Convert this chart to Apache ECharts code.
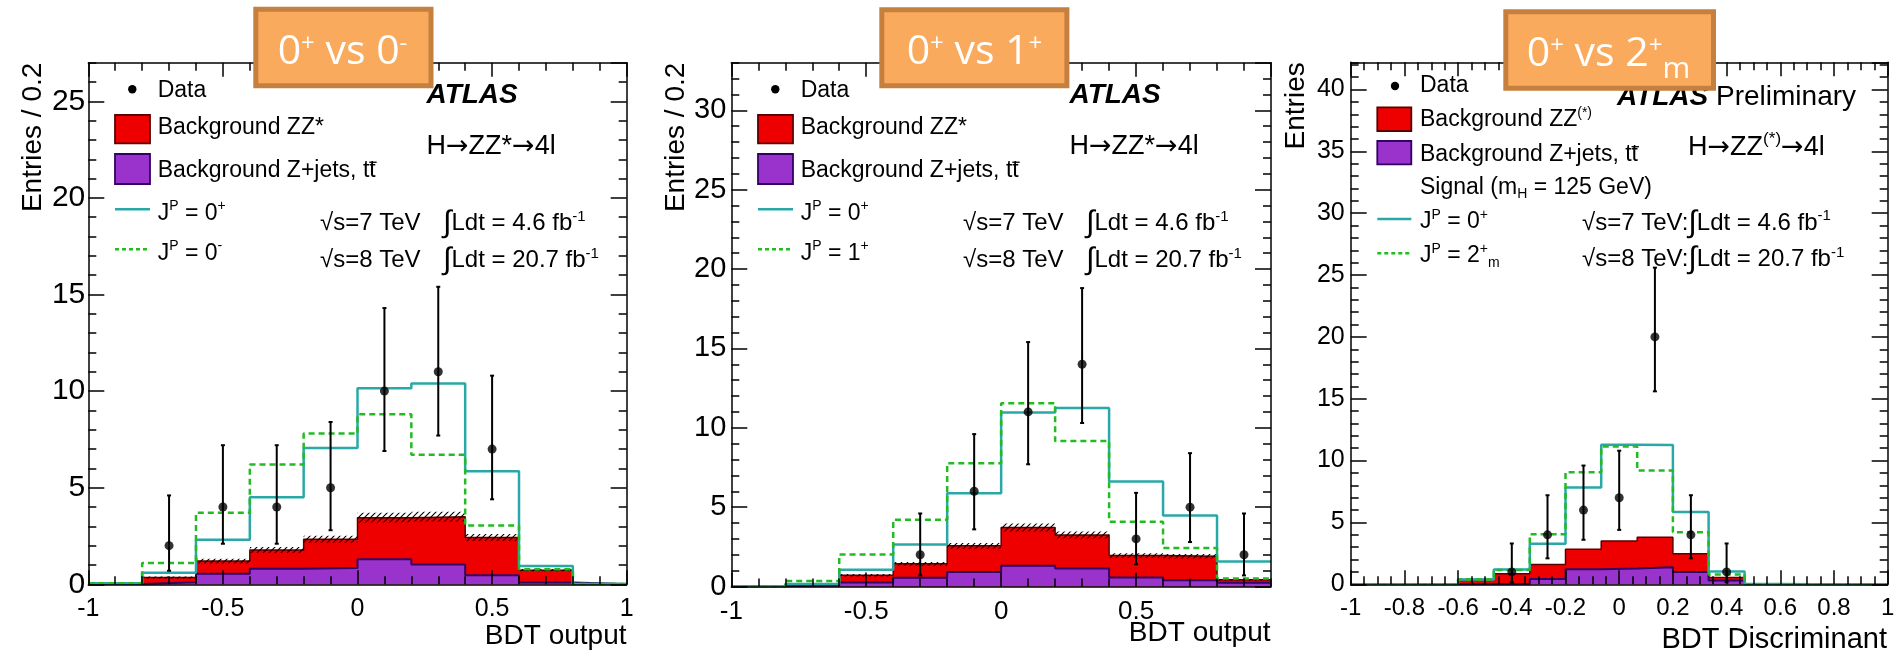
<!DOCTYPE html>
<html><head><meta charset="utf-8">
<script src="https://cdn.jsdelivr.net/npm/echarts@6.0.0/dist/echarts.min.js"></script>
<style>html,body{margin:0;padding:0;background:#fff}#c{width:1895px;height:655px}</style>
</head><body><div id="c"></div><script>
// ---------------- DATA ----------------
// Panel 1: 0+ vs 0-
const p1Edges = [-1,-0.8,-0.6,-0.4,-0.2,0,0.2,0.4,0.6,0.8,1];
const p1Bkg   = [0.02,0.35,1.2,1.78,2.33,3.45,3.5,2.42,0.73,0.02];
const p1Zjets = [0.01,0.1,0.55,0.8,0.85,1.3,1.02,0.47,0.09,0.01];
const p1Unc   = [0,0.05,0.12,0.15,0.18,0.25,0.25,0.18,0.06,0];
const p1Sig   = [0.05,0.6,2.3,4.5,7.05,10.15,10.4,5.85,0.95,0.02];
const p1Alt   = [0.05,1.1,3.7,6.2,7.8,8.8,6.7,3.05,0.78,0.02];
const p1DataX = [-0.7,-0.5,-0.3,-0.1,0.1,0.3,0.5];
const p1Data  = [2,4,4,5,10,11,7];
const p1ErrLo = [0.7,2.1,2.1,2.8,6.9,7.7,4.4];
const p1ErrHi = [4.6,7.2,7.2,8.4,14.3,15.4,10.8];

// Panel 2: 0+ vs 1+
const p2Edges = [-1,-0.8,-0.6,-0.4,-0.2,0,0.2,0.4,0.6,0.8,1];
const p2Bkg   = [0.02,0.15,0.71,1.43,2.56,3.72,3.24,1.95,1.9,0.42];
const p2Zjets = [0.02,0.08,0.25,0.55,0.92,1.3,1.13,0.57,0.4,0.24];
const p2Unc   = [0,0.03,0.08,0.12,0.18,0.25,0.22,0.15,0.14,0.04];
const p2Sig   = [0.02,0.15,1.05,2.65,5.88,10.97,11.24,6.62,4.47,1.58];
const p2Alt   = [0.02,0.34,2.02,4.2,7.77,11.55,9.16,4.08,2.42,0.5];
const p2DataX = [-0.3,-0.1,0.1,0.3,0.5,0.7,0.9];
const p2Data  = [2,6,11,14,3,5,2];
const p2ErrLo = [0.7,3.6,7.7,10.3,1.4,2.8,0.7];
const p2ErrHi = [4.6,9.6,15.4,18.8,5.9,8.4,4.6];

// Panel 3: 0+ vs 2+m
const p3Edges = [-1,-0.867,-0.733,-0.6,-0.467,-0.333,-0.2,-0.067,0.067,0.2,0.333,0.467,0.6,0.733,0.867,1];
const p3Bkg   = [0.02,0.02,0.02,0.38,0.86,1.61,2.84,3.51,3.81,2.47,0.55,0.02,0.02,0.02,0.02];
const p3Zjets = [0.02,0.02,0.02,0.02,0.05,0.43,1.21,1.27,1.37,1.0,0.3,0.02,0.02,0.02,0.02];
const p3Sig   = [0,0,0,0.38,1.2,3.27,7.83,11.29,11.26,5.84,1.03,0.02,0,0,0];
const p3Alt   = [0,0,0,0.38,1.15,4.05,9.06,11.15,9.2,4.21,0.8,0,0,0,0];
const p3DataX = [-0.4,-0.267,-0.133,0,0.133,0.267,0.4];
const p3Data  = [1,4,6,7,20,4,1];
const p3ErrLo = [0.17,2.1,3.6,4.4,15.6,2.1,0.17];
const p3ErrHi = [3.3,7.2,9.6,10.8,25.6,7.2,3.3];

// ---------------- STYLE / LAYOUT ----------------
const FF = '"Liberation Sans", Arial, Helvetica, sans-serif';
const OF = '"Open Sans", "Noto Sans", sans-serif';
const layout = [
  {left:88.3, top:62.7, width:538.4, height:521.6, ymax:27, xMajor:0.5, xMinor:0.1, yFont:30, xFont:25, yMargin:3, xMargin:12, hideXMax:false},
  {left:731.3, top:62.7, width:539.7, height:523.8, ymax:33, xMajor:0.5, xMinor:0.1, yFont:29, xFont:26, yMargin:5, xMargin:12, hideXMax:true},
  {left:1350.7, top:62.3, width:537, height:522, ymax:42.2, xMajor:0.2, xMinor:0.05, yFont:25, xFont:24, yMargin:6, xMargin:12, hideXMax:false}
];
const panels = [
  {edges:p1Edges,bkg:p1Bkg,zjets:p1Zjets,unc:p1Unc,sig:p1Sig,alt:p1Alt,dx:p1DataX,d:p1Data,lo:p1ErrLo,hi:p1ErrHi},
  {edges:p2Edges,bkg:p2Bkg,zjets:p2Zjets,unc:p2Unc,sig:p2Sig,alt:p2Alt,dx:p2DataX,d:p2Data,lo:p2ErrLo,hi:p2ErrHi},
  {edges:p3Edges,bkg:p3Bkg,zjets:p3Zjets,unc:null,sig:p3Sig,alt:p3Alt,dx:p3DataX,d:p3Data,lo:p3ErrLo,hi:p3ErrHi}
];

function stepData(edges, vals){
  const d = [];
  for (let i = 0; i < vals.length; i++) d.push([edges[i], vals[i]]);
  d.push([edges[vals.length], vals[vals.length-1]]);
  return d;
}

const hatch = (function(){
  const c = document.createElement('canvas'); c.width = 6; c.height = 6;
  const g = c.getContext('2d'); g.strokeStyle = '#000'; g.lineWidth = 1.1;
  g.beginPath(); g.moveTo(0,6); g.lineTo(6,0); g.moveTo(-3,3); g.lineTo(3,-3); g.moveTo(3,9); g.lineTo(9,3); g.stroke();
  return c;
})();

const grids = [], xAxes = [], yAxes = [], series = [];
const axLine = {show:true, onZero:false, lineStyle:{color:'#000', width:1.5}};
const noLine = {show:false, onZero:false};

function mkAxis(gi, L, dim, pos, interval, len, label){
  const isX = dim === 'x';
  return {
    gridIndex: gi, type:'value', position: pos,
    min: isX ? -1 : 0, max: isX ? 1 : L.ymax, interval: interval, z: 10,
    axisLine: len > 10 ? axLine : noLine,
    axisTick: {show:true, inside:true, length:len, lineStyle:{color:'#000', width:1.5}},
    splitLine: {show:false}, minorTick: {show:false}, minorSplitLine:{show:false},
    axisLabel: label ? {
      show:true, color:'#000', fontFamily: FF,
      fontSize: isX ? L.xFont : L.yFont, margin: isX ? L.xMargin : L.yMargin,
      showMaxLabel: isX ? !L.hideXMax : false, showMinLabel: true,
      formatter: v => String(Math.round(v*1000)/1000)
    } : {show:false}
  };
}

layout.forEach((L, i) => {
  grids.push({left:L.left, top:L.top, width:L.width, height:L.height, containLabel:false, outerBoundsMode:'none'});
  xAxes.push(mkAxis(i,L,'x','bottom',L.xMajor,14,true), mkAxis(i,L,'x','bottom',L.xMinor,8,false),
             mkAxis(i,L,'x','top',L.xMajor,14,false), mkAxis(i,L,'x','top',L.xMinor,8,false));
  yAxes.push(mkAxis(i,L,'y','left',5,16,true), mkAxis(i,L,'y','left',1,8,false),
             mkAxis(i,L,'y','right',5,16,false), mkAxis(i,L,'y','right',1,8,false));
  const P = panels[i];
  const c = {xAxisIndex:i*4, yAxisIndex:i*4, animation:false};
  series.push(Object.assign({}, c, {type:'line', step:'end', symbol:'none', data:stepData(P.edges,P.bkg),
    lineStyle:{color:'#5a0000', width:1.5}, areaStyle:{color:'#ee0000', opacity:1, origin:'start'}, z:2}));
  series.push(Object.assign({}, c, {type:'line', step:'end', symbol:'none', data:stepData(P.edges,P.zjets),
    lineStyle:{color:'#330066', width:2}, areaStyle:{color:'#9933cc', opacity:1, origin:'start'}, z:3}));
  if (P.unc) {
    const hd = [];
    P.unc.forEach((u,k) => { if (u > 0) hd.push([P.edges[k], P.edges[k+1], P.bkg[k]-u, P.bkg[k]+u]); });
    series.push(Object.assign({}, c, {type:'custom', data:hd, z:4, encode:{x:[0,1], y:[2,3]},
      renderItem: (params, api) => {
        const a = api.coord([api.value(0), api.value(3)]);
        const b = api.coord([api.value(1), api.value(2)]);
        return {type:'rect', shape:{x:a[0], y:a[1], width:b[0]-a[0], height:b[1]-a[1]},
                style:{fill:{image:hatch, repeat:'repeat'}}};
      }}));
  }
  series.push(Object.assign({}, c, {type:'line', step:'end', symbol:'none', data:stepData(P.edges,P.sig),
    lineStyle:{color:'#2aa8a8', width:2.5}, z:5}));
  series.push(Object.assign({}, c, {type:'line', step:'end', symbol:'none', data:stepData(P.edges,P.alt),
    lineStyle:{color:'#22bb22', width:2.5, type:[6,4]}, z:6}));
  series.push(Object.assign({}, c, {type:'custom', z:7, encode:{x:0, y:[1,2]},
    data: P.dx.map((x,k) => [x, P.lo[k], P.hi[k]]),
    renderItem: (params, api) => {
      const l = api.coord([api.value(0), api.value(1)]);
      const h = api.coord([api.value(0), api.value(2)]);
      const st = {stroke:'#000', lineWidth:2};
      return {type:'group', children:[
        {type:'line', shape:{x1:l[0], y1:l[1], x2:h[0], y2:h[1]}, style:st},
        {type:'line', shape:{x1:l[0]-2, y1:l[1], x2:l[0]+2, y2:l[1]}, style:st},
        {type:'line', shape:{x1:h[0]-2, y1:h[1], x2:h[0]+2, y2:h[1]}, style:st}
      ]};
    }}));
  series.push(Object.assign({}, c, {type:'scatter', symbol:'circle', symbolSize:9,
    data: P.dx.map((x,k) => [x, P.d[k]]), itemStyle:{color:'#000'}, z:8}));
});

// ---------------- TEXT / LEGENDS (graphic) ----------------
const mctx = document.createElement('canvas').getContext('2d');
function tw(font, s){ mctx.font = font; return mctx.measureText(s).width; }

function richSet(size, color){
  const f = s => s + 'px ' + FF;
  const sup = Math.round(size*0.62);
  const h = size*1.3;
  return {
    n:{font:f(size), fill:color, height:h, lineHeight:h},
    b:{font:'italic bold ' + size + 'px ' + FF, fill:color, height:h, lineHeight:h},
    i:{font:f(Math.round(size*1.3)), fill:color, height:h, lineHeight:h},
    a:{font:size + 'px "DejaVu Sans", sans-serif', fill:color, height:h, lineHeight:h},
    p:{font:f(sup), fill:color, height:sup*1.15, lineHeight:sup*1.15, verticalAlign:'top'},
    s:{font:f(sup), fill:color, height:sup*1.15, lineHeight:sup*1.15, verticalAlign:'bottom'}
  };
}
function T(x, y, text, size, opt){
  opt = opt || {};
  return {type:'text', x:x, y:y, z:100, rotation: opt.rot || 0,
    style:{text:text, rich:richSet(size, '#000'), font: size + 'px ' + FF, fill:'#000',
           align: opt.align || 'left', verticalAlign:'middle'}};
}
// "Background Z+jets, tt" with a bar over the last t
function ttLegend(x, y, size){
  const f = size + 'px ' + FF;
  const x0 = x + tw(f, 'Background Z+jets, t');
  const w = tw(f, 't');
  const yb = y - size*0.36;
  return [T(x, y, '{n|Background Z+jets, tt}', size),
    {type:'line', z:100, shape:{x1:x0, y1:yb, x2:x0+w+1, y2:yb}, style:{stroke:'#000', lineWidth:1.3}}];
}
const boxRich = {
  m:{font:'41px ' + OF, fill:'#fff', height:50, lineHeight:50},
  u:{font:'24px ' + OF, fill:'#fff', height:34, lineHeight:34, verticalAlign:'top'},
  d:{font:'30px ' + OF, fill:'#fff', height:19, lineHeight:19, verticalAlign:'bottom'}
};
function orangeBox(x0, y0, x1, y1, tx, ty, text){
  return [
    {type:'rect', z:100, shape:{x:x0+2.5, y:y0+2.5, width:x1-x0-5, height:y1-y0-5},
     style:{fill:'#faaa5c', stroke:'#c5803f', lineWidth:5}},
    {type:'text', z:101, x:tx, y:ty, style:{text:text, rich:boxRich, font:'41px ' + OF, fill:'#fff', align:'center', verticalAlign:'middle'}}
  ];
}
function legendGlyphs(dotX, dotY, bx0, bx1, redY, purY, cyY, grY){
  return [
    {type:'circle', z:100, shape:{cx:dotX, cy:dotY, r:4.2}, style:{fill:'#000'}},
    {type:'rect', z:100, shape:{x:bx0, y:redY[0], width:bx1-bx0, height:redY[1]-redY[0]}, style:{fill:'#ee0000', stroke:'#5a0000', lineWidth:1.8}},
    {type:'rect', z:100, shape:{x:bx0, y:purY[0], width:bx1-bx0, height:purY[1]-purY[0]}, style:{fill:'#9933cc', stroke:'#330066', lineWidth:1.8}},
    {type:'line', z:100, shape:{x1:bx0, y1:cyY, x2:bx1, y2:cyY}, style:{stroke:'#2aa8a8', lineWidth:2.5}},
    {type:'line', z:100, shape:{x1:bx0, y1:grY, x2:bx1, y2:grY}, style:{stroke:'#22bb22', lineWidth:2.5, lineDash:[4,3]}}
  ];
}

const LS = 23; // legend font size
const G = [];
const altLabel = ['{n|J}{p|P}{n| = 0}{p|-}', '{n|J}{p|P}{n| = 1}{p|+}'];
[0, 643].forEach((dx, k) => {
  G.push(...legendGlyphs(132.3+dx, 89.3, 115+dx, 150+dx, [115,143.3], [154,184], 209.3, 249.3));
  G.push(T(157.7+dx, 90.8, '{n|Data}', LS));
  G.push(T(157.7+dx, 127.5, '{n|Background ZZ*}', LS));
  G.push(...ttLegend(157.7+dx, 170.5, LS));
  G.push(T(157.7+dx, 213.3, '{n|J}{p|P}{n| = 0}{p|+}', LS));
  G.push(T(157.7+dx, 253.3, altLabel[k], LS));
  G.push(T(426.5+dx, 95.5, '{b|ATLAS}', 28));
  G.push(T(426.5+dx, 146.7, '{n|H}{a|\u2192}{n|ZZ*}{a|\u2192}{n|4l}', 27));
  G.push(T(320+dx, 223.8, '{n|\u221As=7 TeV}', 24));
  G.push(T(443+dx, 223.8, '{i|\u222B}{n|Ldt = 4.6 fb}{p|-1}', 24));
  G.push(T(320+dx, 260.5, '{n|\u221As=8 TeV}', 24));
  G.push(T(443+dx, 260.5, '{i|\u222B}{n|Ldt = 20.7 fb}{p|-1}', 24));
});
// Panel 3 legend
G.push(...legendGlyphs(1395, 86, 1377.3, 1411.3, [107.3,131], [141,164.3], 219, 253.3));
G.push(T(1420, 85.7, '{n|Data}', LS));
G.push(T(1420, 120, '{n|Background ZZ}{p|(*)}', LS));
G.push(...ttLegend(1420, 155, LS));
G.push(T(1420, 187.2, '{n|Signal (m}{s|H}{n| = 125 GeV)}', LS));
G.push(T(1420, 221.7, '{n|J}{p|P}{n| = 0}{p|+}', LS));
G.push(T(1420, 255.8, '{n|J}{p|P}{n| = 2}{p|+}{s|m}', LS));
G.push(T(1617, 97.2, '{b|ATLAS}{n| Preliminary}', 28));
G.push(T(1688, 147.5, '{n|H}{a|\u2192}{n|ZZ}{p|(*)}{a|\u2192}{n|4l}', 27));
G.push(T(1582, 223, '{n|\u221As=7 TeV:}{i|\u222B}{n|Ldt = 4.6 fb}{p|-1}', 24));
G.push(T(1582, 259.7, '{n|\u221As=8 TeV:}{i|\u222B}{n|Ldt = 20.7 fb}{p|-1}', 24));

// Axis titles
G.push(T(33, 62.7, '{n|Entries / 0.2}', 28, {align:'right', rot:Math.PI/2}));
G.push(T(676.5, 62.7, '{n|Entries / 0.2}', 28, {align:'right', rot:Math.PI/2}));
G.push(T(1296, 62.3, '{n|Entries}', 28, {align:'right', rot:Math.PI/2}));
G.push(T(626.5, 636.5, '{n|BDT output}', 28, {align:'right'}));
G.push(T(1270.5, 633, '{n|BDT output}', 28, {align:'right'}));
G.push(T(1887, 639.5, '{n|BDT Discriminant}', 29, {align:'right'}));

// Orange title boxes
G.push(...orangeBox(253.3, 6.7, 433.5, 88.3, 342.5, 52, '{m|0}{u|+}{m| vs 0}{u|-}'));
G.push(...orangeBox(879.3, 7.3, 1069.4, 88.3, 974.5, 52.5, '{m|0}{u|+}{m| vs 1}{u|+}'));
G.push(...orangeBox(1503.3, 9.3, 1716, 90.7, 1608.5, 54, '{m|0}{u|+}{m| vs 2}{u|+}{d|m}'));

const chart = echarts.init(document.getElementById('c'), null, {renderer:'canvas'});
chart.setOption({
  animation:false,
  backgroundColor:'#fff',
  textStyle:{fontFamily:FF},
  grid:grids, xAxis:xAxes, yAxis:yAxes, series:series,
  graphic:{elements:G}
});
</script></body></html>
